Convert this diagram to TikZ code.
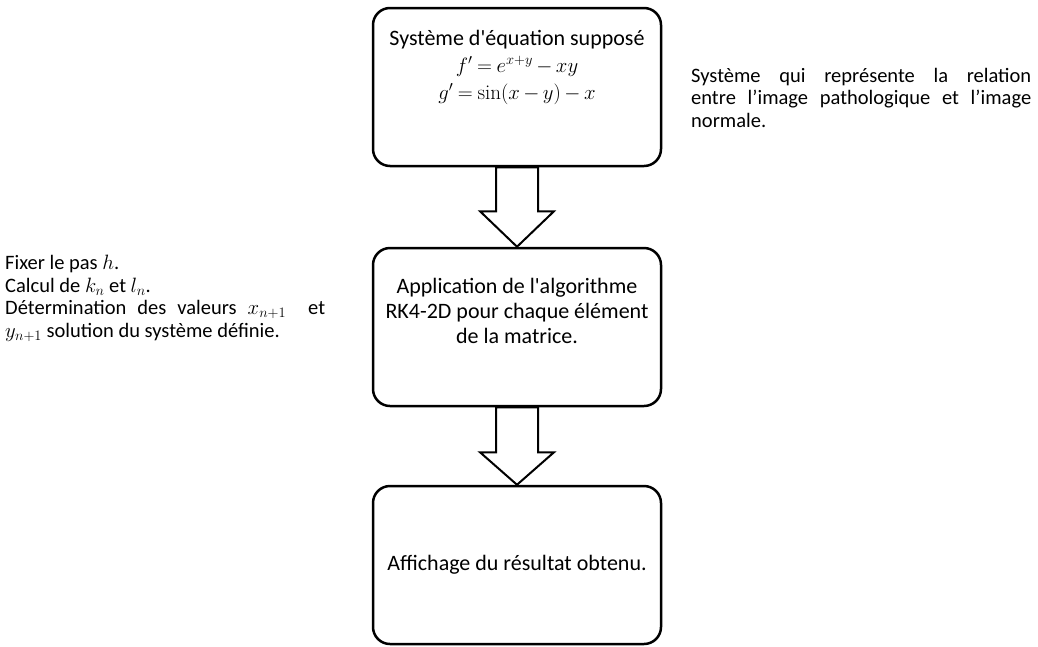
\documentclass[tikz,border=0pt]{standalone}
\usepackage{fontspec}
\usetikzlibrary{calc}
\newfontfamily\carlito{Carlito}
\setlength{\parindent}{0pt}
\newcommand\tightmath{\medmuskip=3mu\relax\thickmuskip=4mu\relax}
\begin{document}
\begin{tikzpicture}[x=1pt,y=-1pt,
  box/.style={draw, line width=2.5pt, rounded corners=17pt, minimum width=288pt, minimum height=158pt, inner sep=0pt},
  boxtext/.style={font=\carlito\fontsize{22}{25}\selectfont, align=center, inner sep=0pt},
  side/.style={font=\carlito\fontsize{20.5}{22.5}\selectfont, align=justify, inner sep=0pt},
  blockarrow/.style={draw, line width=2pt, fill=white, line join=miter}]
\useasboundingbox (0,0) rectangle (1038,646);

\node[box] (b1) at (517,87) {};
\node[boxtext, anchor=north, font=\carlito\fontsize{22}{27}\selectfont] (t1) at (517,30) {Système d'équation supposé\\{\fontsize{21}{27}\selectfont$\tightmath f' = e^{x+y} - xy$}\\{\fontsize{21}{27}\selectfont$\tightmath g' = \sin(x-y) - x$}};
\node[box] (b2) at (517,327) {};
\node[boxtext] (t2) at (517,311) {Application de l'algorithme\\RK4-2D pour chaque élément\\de la matrice.};
\node[box] (b3) at (517,565) {};
\node[boxtext] (t3) at (517,565) {Affichage du résultat obtenu.};

\draw[blockarrow] ($(b1.south)+(-21,0)$) -- ($(b1.south)+(-21,44)$) -- ($(b1.south)+(-37,44)$) -- (b2.north) -- ($(b1.south)+(37,44)$) -- ($(b1.south)+(21,44)$) -- ($(b1.south)+(21,0)$) -- cycle;
\draw[blockarrow] ($(b2.south)+(-21,0)$) -- ($(b2.south)+(-21,45)$) -- ($(b2.south)+(-37,45)$) -- (b3.north) -- ($(b2.south)+(37,45)$) -- ($(b2.south)+(21,45)$) -- ($(b2.south)+(21,0)$) -- cycle;

\node[side, text width=340pt, anchor=north west] (rt) at (691,68) {Système qui représente la relation\linebreak entre l’image pathologique et l’image\linebreak normale.};
\node[side, text width=320pt, anchor=north west] (lt) at (5,255) {Fixer le pas $h$.\\Calcul de $k_n$ et $l_n$.\\Détermination des valeurs $x_{n+1}$\ \ et\linebreak $y_{n+1}$ solution du système définie.};
\end{tikzpicture}
\end{document}
